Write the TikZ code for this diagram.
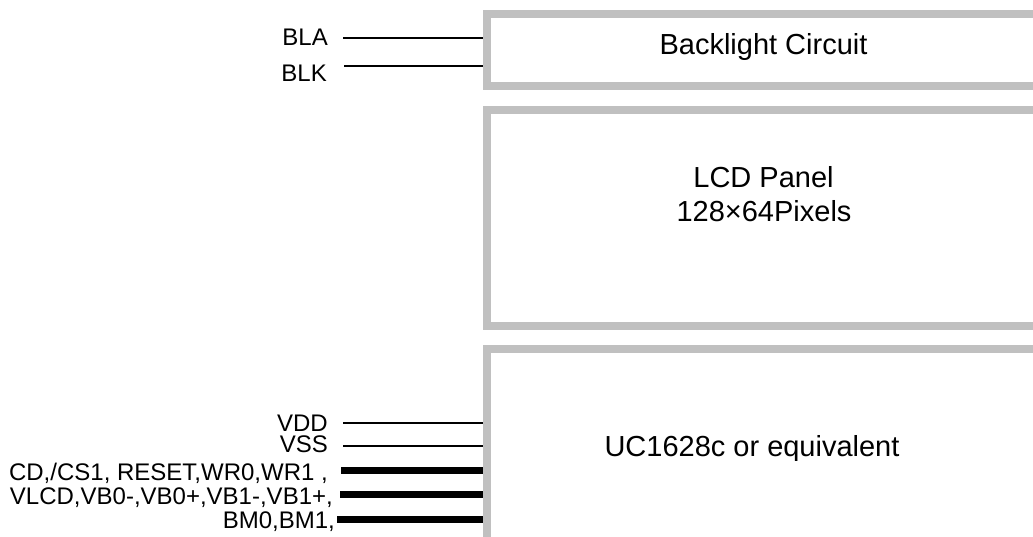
\documentclass[tikz,border=0pt]{standalone}
\usepackage{fontspec}
\setmainfont{Liberation Sans}
\definecolor{boxgray}{RGB}{192,192,192}
\begin{document}
\begin{tikzpicture}[x=1pt,y=-1pt,
  box/.style={draw=boxgray, line width=8pt, rectangle, inner sep=0pt, outer sep=0pt, anchor=north west, minimum width=620pt},
  lbl/.style={font=\fontsize{24}{28}\selectfont, inner sep=0pt, anchor=base east, text height=17pt, text depth=1pt},
  boxtitle/.style={font=\fontsize{29}{34}\selectfont, inner sep=0pt, anchor=base},
  wire/.style={line width=1.3pt, shorten >=4pt},
  bus/.style={line width=7pt, shorten >=4pt}]
\useasboundingbox (0,0) rectangle (1033,537);
\clip (0,0) rectangle (1033,537);
% boxes
\node[box, minimum height=72pt] (bl) at (487,14) {};
\node[box, minimum height=216pt] (lcd) at (487,110) {};
\node[box, minimum height=250pt] (uc) at (487,349) {};
% box titles
\node[boxtitle] (blt) at (763.5,55) {Backlight Circuit};
\node[boxtitle] (lcdA) at (763.5,188) {LCD Panel};
\node[boxtitle] (lcdB) at (764,222) {128×64Pixels};
\begin{scope}
\clip (590,420) rectangle (920,460);
\node[boxtitle] (uct) at (752,456) {UC1628c or equivalent};
\end{scope}
% labels
\node[lbl] (bla) at (328,46) {BLA};
\node[lbl] (blk) at (327,82) {BLK};
\node[lbl] (vdd) at (328,431) {VDD};
\node[lbl] (vss) at (328,452) {VSS};
\node[lbl] (cd) at (328,480) {CD,/CS1, RESET,WR0,WR1 ,};
\node[lbl] (vlcd) at (333,504) {VLCD,VB0-,VB0+,VB1-,VB1+,};
\node[lbl] (bm) at (335,528) {BM0,BM1,};
% wire starts
\coordinate (blaS) at (343,38);
\coordinate (blkS) at (344,66);
\coordinate (vddS) at (343,423);
\coordinate (vssS) at (343,446);
\coordinate (cdS) at (341,470);
\coordinate (vlcdS) at (340,494);
\coordinate (bmS) at (337,519);
% connectors
\draw[wire] (blaS) -- (blaS -| bl.west);
\draw[wire] (blkS) -- (blkS -| bl.west);
\draw[wire] (vddS) -- (vddS -| uc.west);
\draw[wire] (vssS) -- (vssS -| uc.west);
\draw[bus] (cdS) -- (cdS -| uc.west);
\draw[bus] (vlcdS) -- (vlcdS -| uc.west);
\draw[bus] (bmS) -- (bmS -| uc.west);
\end{tikzpicture}
\end{document}
